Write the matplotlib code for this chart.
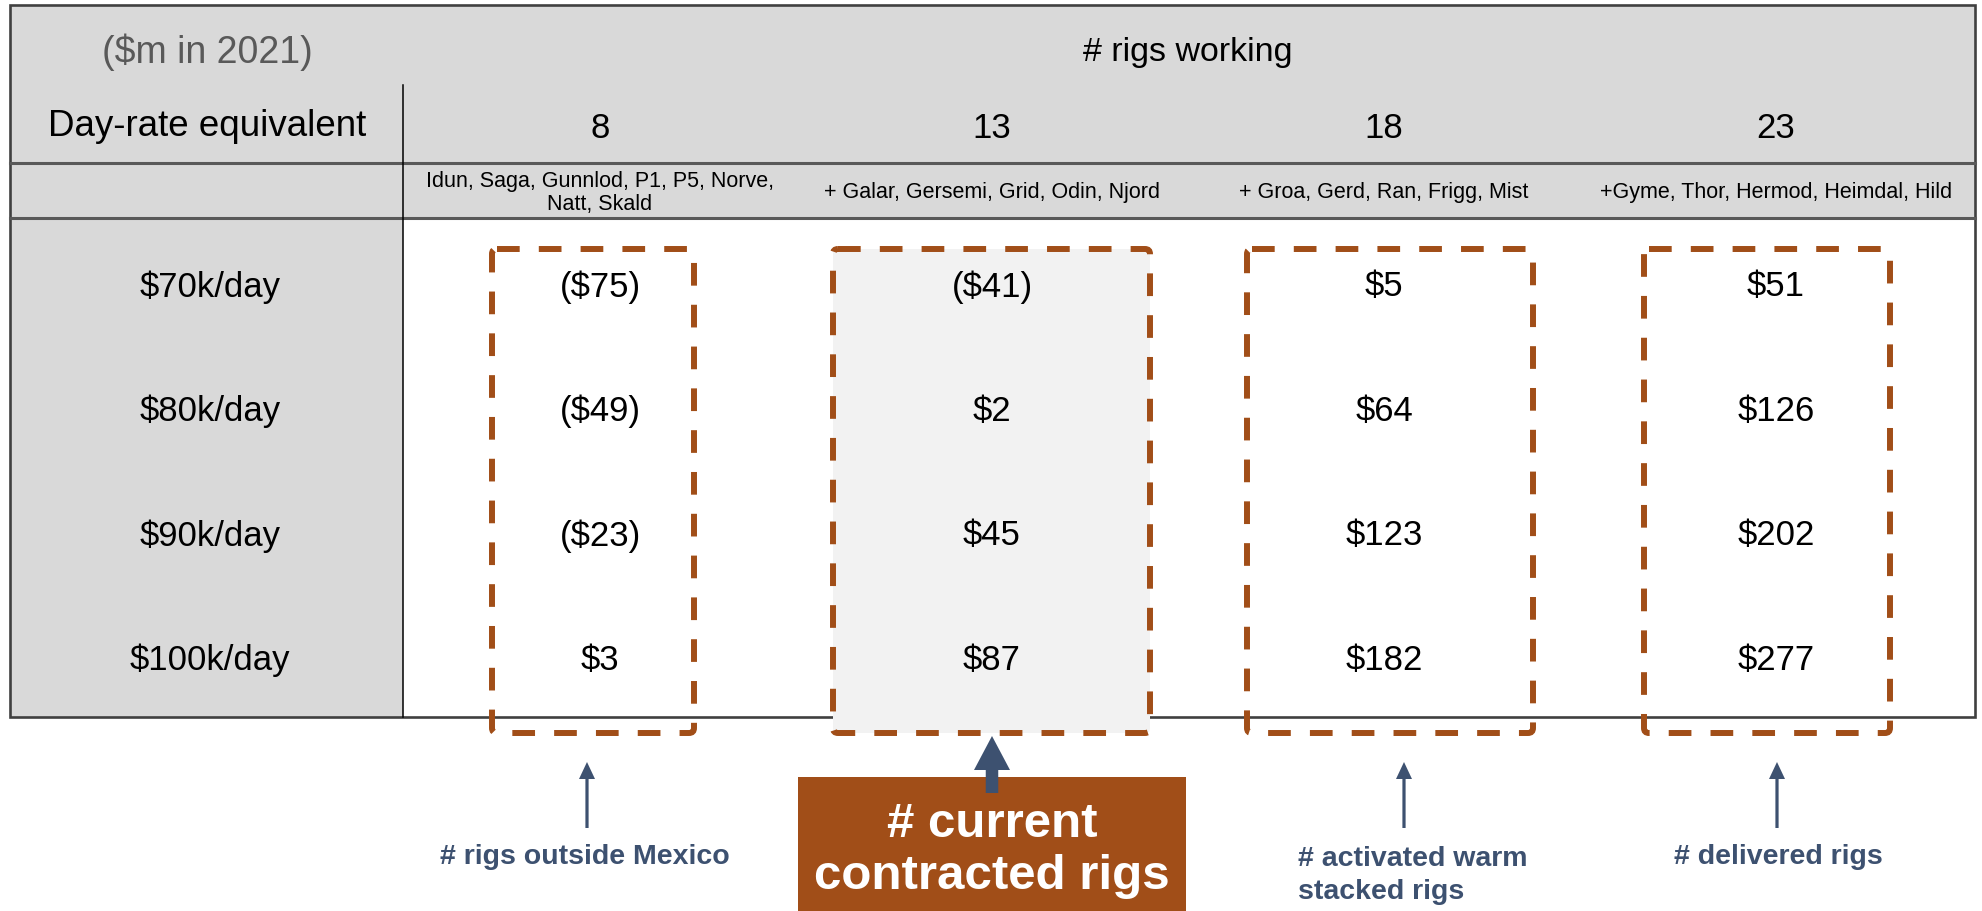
import matplotlib
matplotlib.use("Agg")
import matplotlib.pyplot as plt
from matplotlib.patches import Rectangle, FancyBboxPatch, FancyArrow

plt.rcParams['font.family'] = ['Liberation Sans', 'DejaVu Sans']
plt.rcParams['text.parse_math'] = False

# data
rig_counts = ['8', '13', '18', '23']
rig_names = ['Idun, Saga, Gunnlod, P1, P5, Norve,\nNatt, Skald',
             '+ Galar, Gersemi, Grid, Odin, Njord',
             '+ Groa, Gerd, Ran, Frigg, Mist',
             '+Gyme, Thor, Hermod, Heimdal, Hild']
day_rates = ['$70k/day', '$80k/day', '$90k/day', '$100k/day']
npv_8 = [-75, -49, -23, 3]
npv_13 = [-41, 2, 45, 87]
npv_18 = [5, 64, 123, 182]
npv_23 = [51, 126, 202, 277]
callouts = ['# rigs outside Mexico', '# current\ncontracted rigs',
            '# activated warm\nstacked rigs', '# delivered rigs']


def fmt(v):
    return f'(${-v})' if v < 0 else f'${v}'


W, H = 1983, 912
fig = plt.figure(figsize=(W / 100, H / 100), dpi=100)
ax = fig.add_axes([0, 0, 1, 1])
ax.set_xlim(0, W)
ax.set_ylim(H, 0)
ax.axis('off')

gray = '#D9D9D9'
rust = '#A14E18'
navy = '#3D5170'

# layout (pixels)
left, right, top, bottom = 10, 1975, 6, 718
split_x = 403
hdr1, hdr2 = 164, 219
col_x = [600 + 392 * i for i in range(4)]
row_y = [287 + 124.5 * j for j in range(4)]
lab_x = 210

# table background
ax.add_patch(Rectangle((left, top), right - left, hdr2 - top, fc=gray, ec='none', zorder=0))
ax.add_patch(Rectangle((left, hdr2), split_x - left, bottom - hdr2, fc=gray, ec='none', zorder=0))
ax.add_patch(Rectangle((left, top), right - left, bottom - top, fc='none', ec='#404040', lw=1.9, zorder=2))
for y in (hdr1, hdr2):
    ax.plot([left, right], [y, y], color='#595959', lw=2.2, zorder=2)
ax.plot([split_x, split_x], [86, bottom], color='black', lw=1.1, zorder=2)

# header text
ax.text(207, 52, '($m in 2021)', fontsize=27, color='#595959', ha='center', va='center')
ax.text(1188, 52, '# rigs working', fontsize=24.5, ha='center', va='center')
ax.text(207, 127, 'Day-rate equivalent', fontsize=26.5, ha='center', va='center')
for i, (n, names) in enumerate(zip(rig_counts, rig_names)):
    ax.text(col_x[i], 128, n, fontsize=25, ha='center', va='center')
    ax.text(col_x[i], 193, names, fontsize=15.5, ha='center', va='center', linespacing=1.1)

for j, lab in enumerate(day_rates):
    ax.text(lab_x, row_y[j], lab, fontsize=25, ha='center', va='center')

# highlighted column boxes
box_x = [(492, 694), (833, 1150), (1247, 1533), (1644, 1890)]
box_top, box_bot = 250, 734
for i, (x0, x1) in enumerate(box_x):
    ax.add_patch(FancyBboxPatch((x0, box_top), x1 - x0, box_bot - box_top,
                                boxstyle='round,pad=0,rounding_size=5',
                                fc='#F2F2F2' if i == 1 else 'none', ec='none', zorder=3))
    ax.add_patch(FancyBboxPatch((x0, box_top), x1 - x0, box_bot - box_top,
                                boxstyle='round,pad=0,rounding_size=5',
                                fc='none', ec=rust, lw=4.3, ls=(0, (3.8, 3.2)), zorder=5))

for i, col in enumerate([npv_8, npv_13, npv_18, npv_23]):
    for j, v in enumerate(col):
        ax.text(col_x[i], row_y[j], fmt(v), fontsize=25, ha='center', va='center', zorder=6)

# callouts
arrow_x = [587, None, 1404, 1777]
for i in (0, 2, 3):
    ax.add_patch(FancyArrow(arrow_x[i], 829, 0, -66,
                            width=3.2, head_width=16, head_length=17,
                            length_includes_head=True, fc=navy, ec='none', zorder=6))
ax.text(585, 857, callouts[0], fontsize=20.5, fontweight='bold', color=navy, ha='center', va='center')
ax.text(1298, 876, callouts[2], fontsize=20.5, fontweight='bold', color=navy, ha='left', va='center',
        linespacing=1.35)
ax.text(1778, 857, callouts[3], fontsize=20.5, fontweight='bold', color=navy, ha='center', va='center')

ax.add_patch(Rectangle((798, 778), 1186 - 798, H - 778, fc=rust, ec='none', zorder=6))
ax.add_patch(FancyArrow(992, 794, 0, -57, width=12.5, head_width=36, head_length=34,
                        length_includes_head=True, fc=navy, ec='none', zorder=7))
ax.text(992, 851, callouts[1], fontsize=35.5, fontweight='bold', color='white', ha='center', va='center',
        linespacing=1.2, zorder=8)

fig.savefig('out.png', dpi=100)
